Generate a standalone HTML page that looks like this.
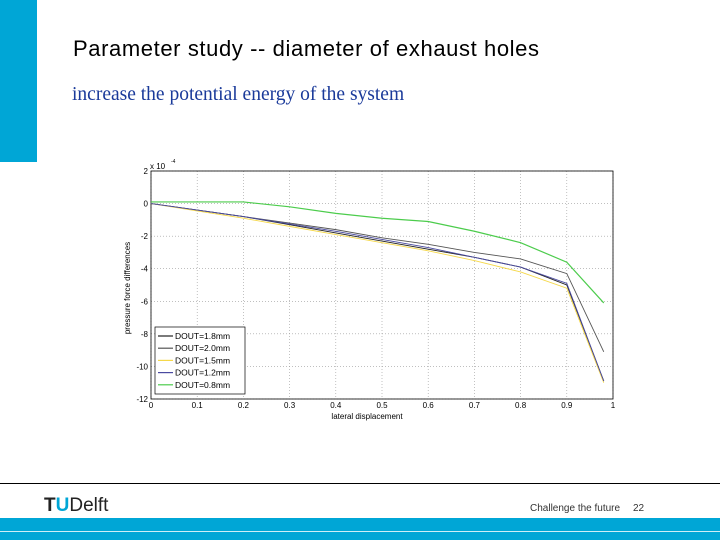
<!DOCTYPE html>
<html><head><meta charset="utf-8"><style>
body{margin:0;width:720px;height:540px;background:#fff;position:relative;overflow:hidden;font-family:"Liberation Sans",sans-serif}
.a{position:absolute}
</style></head><body>
<div class="a" style="left:0;top:0;width:37px;height:162px;background:#00a6d6"></div>
<div class="a" style="left:73px;top:36px;font-size:22px;letter-spacing:0.6px;color:#000">Parameter study -- diameter of exhaust holes</div>
<div class="a" style="left:72px;top:84px;font-family:'Liberation Serif',serif;font-size:19.5px;color:#1a3a9a">increase the potential energy of the system</div>
<svg class="a" style="left:0;top:0" width="720" height="480">
<g id="g"></g>
</svg>
<div class="a" style="left:0;top:483px;width:720px;height:1px;background:#000"></div>
<div class="a" style="left:44px;top:495px;font-size:19px;color:#222"><b style="color:#222">T</b><b style="color:#00a6d6">U</b>Delft</div>
<div class="a" style="left:530px;top:503px;font-size:10px;color:#333">Challenge the future</div>
<div class="a" style="left:633px;top:503px;font-size:10px;color:#333">22</div>
<div class="a" style="left:0;top:518px;width:720px;height:22px;background:#00a6d6"></div>
<div class="a" style="left:0;top:531px;width:720px;height:1px;background:#cdeef7"></div>
<script>
const xs=[0,0.1,0.2,0.3,0.4,0.5,0.6,0.7,0.8,0.9,0.98];
const s18=[0,-0.4,-0.8,-1.3,-1.8,-2.3,-2.8,-3.3,-3.9,-5.0,-10.9];
const s20=[0,-0.4,-0.8,-1.2,-1.6,-2.1,-2.5,-3.0,-3.4,-4.3,-9.1];
const s15=[0,-0.45,-0.9,-1.4,-1.9,-2.4,-2.9,-3.5,-4.2,-5.2,-11.0];
const s12=[0,-0.4,-0.8,-1.25,-1.7,-2.2,-2.7,-3.3,-3.9,-4.9,-10.9];
const s08=[0.1,0.1,0.1,-0.2,-0.6,-0.9,-1.1,-1.7,-2.4,-3.6,-6.1];
const xTicks=[0,0.1,0.2,0.3,0.4,0.5,0.6,0.7,0.8,0.9,1];
const yTicks=[2,0,-2,-4,-6,-8,-10,-12];
const names=["DOUT=1.8mm","DOUT=2.0mm","DOUT=1.5mm","DOUT=1.2mm","DOUT=0.8mm"];
const series=[s18,s20,s15,s12,s08];
const colors=["#222","#555","#f5d84a","#4a4aa0","#4ccc4c"];
const X0=151,X1=613,Y0=171,Y1=399;
const X=v=>X0+(X1-X0)*v, Y=v=>Y0+(Y1-Y0)*(2-v)/14;
const g=document.getElementById('g');let h='';
xTicks.forEach(t=>{h+=`<line x1="${X(t)}" x2="${X(t)}" y1="${Y0}" y2="${Y1}" stroke="#999" stroke-dasharray="1,2" stroke-width="0.6"/><text x="${X(t)}" y="${Y1+9}" font-size="8" text-anchor="middle">${t}</text>`});
yTicks.forEach(t=>{h+=`<line x1="${X0}" x2="${X1}" y1="${Y(t)}" y2="${Y(t)}" stroke="#999" stroke-dasharray="1,2" stroke-width="0.6"/><text x="${X0-3}" y="${Y(t)+3}" font-size="8" text-anchor="end">${t}</text>`});
h+=`<rect x="${X0}" y="${Y0}" width="${X1-X0}" height="${Y1-Y0}" fill="none" stroke="#000" stroke-width="0.8"/>`;
h+=`<text x="150" y="169" font-size="8">x 10</text><text x="171" y="163" font-size="5">-4</text>`;
h+=`<text x="${(X0+X1)/2-15}" y="419" font-size="8" text-anchor="middle">lateral displacement</text>`;
h+=`<text transform="translate(130,288) rotate(-90)" font-size="8" text-anchor="middle">pressure force differences</text>`;
series.forEach((s,i)=>{h+=`<polyline fill="none" stroke="${colors[i]}" stroke-width="${i==4?1.2:0.9}" points="${s.map((v,j)=>X(xs[j])+','+Y(v)).join(' ')}"/>`});
h+=`<rect x="155" y="327" width="90" height="67" fill="#fff" stroke="#000" stroke-width="0.7"/>`;
names.forEach((n,i)=>{const y=336+i*12.2;h+=`<line x1="158" x2="173" y1="${y}" y2="${y}" stroke="${colors[i]}" stroke-width="1.2"/><text x="175" y="${y+3}" font-size="8.5">${n}</text>`});
g.innerHTML=h;
</script>
</body></html>
